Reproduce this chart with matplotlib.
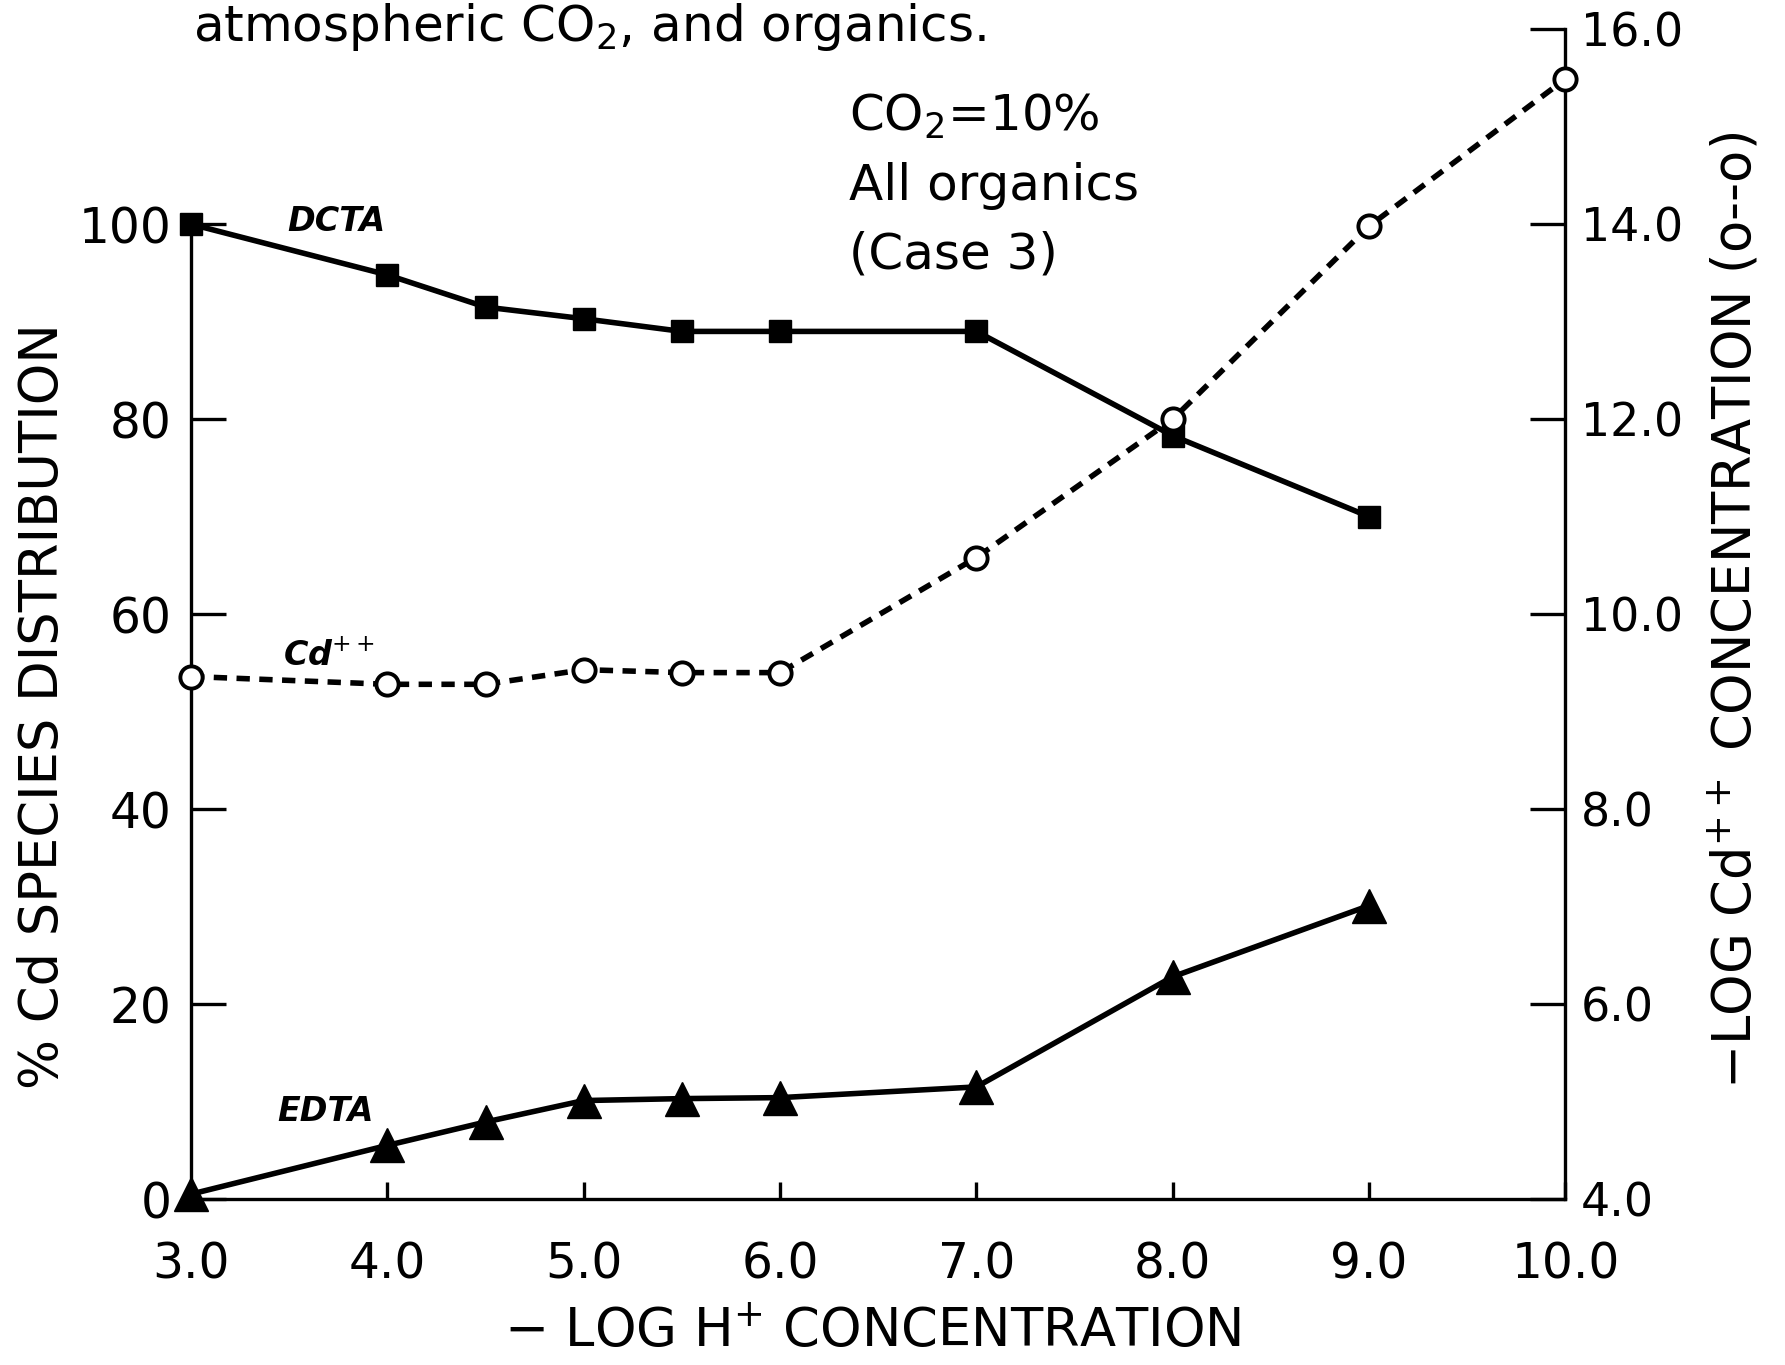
import matplotlib
matplotlib.use("Agg")
from matplotlib import pyplot as plt

plt.rcParams["font.family"] = ["DejaVu Sans"]

# -log H+ concentration
ph = [3.0, 4.0, 4.5, 5.0, 5.5, 6.0, 7.0, 8.0, 9.0]
ph_cd = [3.0, 4.0, 4.5, 5.0, 5.5, 6.0, 7.0, 8.0, 9.0, 10.0]

# % Cd species distribution
dcta = [100.0, 94.8, 91.5, 90.3, 89.0, 89.0, 89.0, 78.3, 70.0]
edta = [0.5, 5.5, 7.9, 10.1, 10.3, 10.4, 11.5, 22.8, 30.1]

# -log Cd++ concentration (right axis)
cd_free = [9.36, 9.28, 9.28, 9.43, 9.40, 9.40, 10.58, 12.0, 13.98, 15.49]

x_ticks = [3.0, 4.0, 5.0, 6.0, 7.0, 8.0, 9.0, 10.0]
left_ticks = [0, 20, 40, 60, 80, 100]
right_ticks = [4.0, 6.0, 8.0, 10.0, 12.0, 14.0, 16.0]

fig = plt.figure(figsize=(17.85, 13.65), dpi=100)
ax = fig.add_axes([0.107, 0.1216, 0.770, 0.857])
ax2 = ax.twinx()

ax.set_xlim(3.0, 10.0)
ax.set_ylim(0, 120)
ax2.set_ylim(4.0, 16.0)

lw = 4.0
ax.plot(ph, dcta, color="black", lw=lw, marker="s", ms=16.5, clip_on=False, zorder=5)
ax.plot(ph, edta, color="black", lw=lw, marker="^", ms=24, clip_on=False, zorder=5)
ax2.plot(ph_cd, cd_free, color="black", lw=lw, dashes=(2.4, 1.7),
         marker="o", ms=16, mfc="white", mec="black", mew=2.8,
         clip_on=False, zorder=5)

# spines
for sp in ["top", "right"]:
    ax.spines[sp].set_visible(False)
ax.spines["left"].set_bounds(0, 100)
for sp in ["top", "left", "bottom"]:
    ax2.spines[sp].set_visible(False)
for a in (ax, ax2):
    for sp in a.spines.values():
        sp.set_linewidth(2.4)

ax.set_xticks(x_ticks)
ax.set_xticklabels([f"{v:.1f}" for v in x_ticks])
ax.set_yticks(left_ticks)
ax.set_yticklabels([str(v) for v in left_ticks])
ax2.set_yticks(right_ticks)
ax2.set_yticklabels([f"{v:.1f}" for v in right_ticks])

ax.tick_params(axis="x", direction="in", length=12, width=2.4, pad=30, labelsize=35)
ax.tick_params(axis="y", direction="in", length=25, width=2.4, pad=14, labelsize=35)
ax2.tick_params(axis="y", direction="in", length=25, width=2.4, pad=11, labelsize=33)

# axis labels
fig.text(0.489, 0.024, "− LOG H$^{+}$ CONCENTRATION", ha="center", va="center", fontsize=38)
fig.text(0.024, 0.483, "% Cd SPECIES DISTRIBUTION", ha="center", va="center",
         rotation=90, fontsize=38)
fig.text(0.972, 0.553, "−LOG Cd$^{++}$ CONCENTRATION (o--o)", ha="center", va="center",
         rotation=90, fontsize=38)

# curve labels
lab = dict(fontsize=24, style="italic", weight="semibold", va="center")
ax.text(3.49, 100.3, "DCTA", **lab)
ax.text(3.47, 55.7, "Cd$^{++}$", **lab)
ax.text(3.44, 9.0, "EDTA", **lab)

ax.text(6.35, 113.6, "CO$_2$=10%\nAll organics\n(Case 3)", fontsize=36,
        va="top", ha="left", linespacing=1.55)

# caption line at top (cut off in the scan)
fig.text(0.108, 0.970, "atmospheric CO$_2$, and organics.", fontsize=36, va="baseline")

fig.savefig("out.png", dpi=100)
